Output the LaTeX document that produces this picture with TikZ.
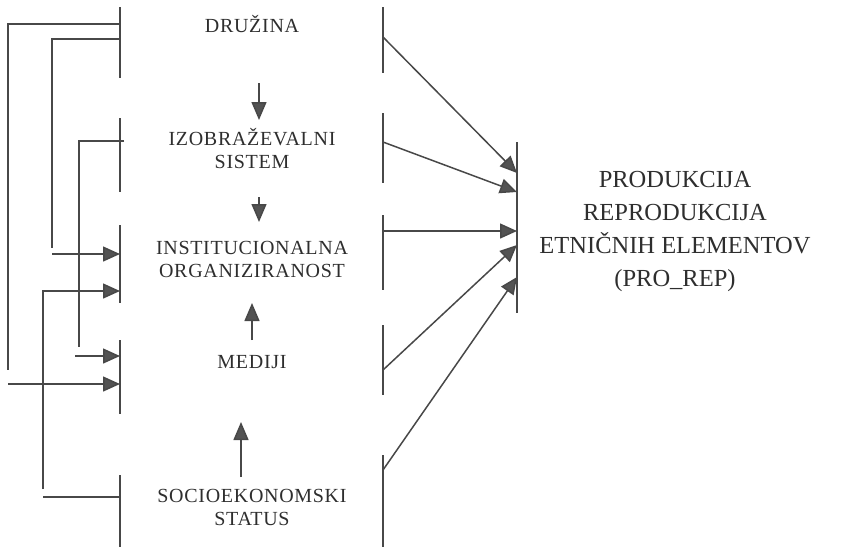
\documentclass[tikz,border=0pt]{standalone}
\usepackage{fontspec}
\setmainfont{Liberation Serif}
\newfontfamily\labelfont[LetterSpace=3.5]{Liberation Serif}
\usetikzlibrary{arrows.meta}
\definecolor{ink}{HTML}{484848}
\definecolor{tipgray}{HTML}{535353}
\definecolor{txt}{HTML}{2E2E2E}
\begin{document}
\begin{tikzpicture}[x=1pt,y=-1pt,
  line/.style={draw=ink, line width=1.5pt},
  flow/.style={line, -{Triangle[length=17pt,width=15pt,fill=tipgray]}},
  vflow/.style={line, -{Triangle[length=18pt,width=15pt,fill=tipgray]}},
  lbl/.style={font=\labelfont\fontsize{20}{23}\selectfont, text=txt,
              align=center, inner sep=0pt, anchor=base},
  outcome/.style={font=\fontsize{24.5}{33}\selectfont, text=txt,
              align=center, inner sep=0pt, anchor=base}]
\useasboundingbox (0,0) rectangle (844,547);

% ---- factor labels (anchored at the baseline of their last line) ----
\node[lbl] (druzina) at (252,32.5) {DRUŽINA};
\node[lbl] (izobr)   at (252,168.5){IZOBRAŽEVALNI\\SISTEM};
\node[lbl] (instit)  at (252,277)  {INSTITUCIONALNA\\ORGANIZIRANOST};
\node[lbl] (mediji)  at (252,368)  {MEDIJI};
\node[lbl] (socio)   at (252,525)  {SOCIOEKONOMSKI\\STATUS};
\node[outcome] (prorep) at (675,286)
  {PRODUKCIJA\\REPRODUKCIJA\\ETNIČNIH ELEMENTOV\\(PRO\_REP)};

% ---- left bars ----
\coordinate (L1t) at (120,7);   \coordinate (L1b) at (120,78);
\coordinate (L2t) at (120,118); \coordinate (L2b) at (120,192);
\coordinate (L3t) at (120,225); \coordinate (L3b) at (120,303);
\coordinate (L4t) at (120,340); \coordinate (L4b) at (120,414);
\coordinate (L5t) at (120,475); \coordinate (L5b) at (120,547);
\foreach \i in {1,...,5} \draw[line] (L\i t) -- (L\i b);

% ---- right bars ----
\coordinate (R1t) at (383,7);   \coordinate (R1b) at (383,73);
\coordinate (R2t) at (383,113); \coordinate (R2b) at (383,183);
\coordinate (R3t) at (383,215); \coordinate (R3b) at (383,290);
\coordinate (R4t) at (383,325); \coordinate (R4b) at (383,395);
\coordinate (R5t) at (383,455); \coordinate (R5b) at (383,547);
\foreach \i in {1,...,5} \draw[line] (R\i t) -- (R\i b);

% ---- outcome bar ----
\coordinate (Tt) at (517,142); \coordinate (Tb) at (517,313);
\draw[line] (Tt) -- (Tb);

% ---- arrows into the outcome ----
\coordinate (R1o) at (383,37);  \coordinate (T1) at (517,173);
\coordinate (R2o) at (383,142); \coordinate (T2) at (517,192);
\coordinate (R3o) at (383,231); \coordinate (T3) at (517,231);
\coordinate (R4o) at (383,370); \coordinate (T4) at (517,245);
\coordinate (R5o) at (383,470); \coordinate (T5) at (517,277);
\foreach \i in {1,...,5} \draw[flow] (R\i o) -- (T\i);

% ---- arrows between the factors ----
\coordinate (v1a) at (259,83);  \coordinate (v1b) at (259,120);
\coordinate (v2a) at (259,197); \coordinate (v2b) at (259,222);
\coordinate (v3a) at (252,340); \coordinate (v3b) at (252,303);
\coordinate (v4a) at (241,477); \coordinate (v4b) at (241,422);
\foreach \i in {1,...,4} \draw[vflow] (v\i a) -- (v\i b);

% ---- feedback lines on the left ----
% from DRUŽINA to MEDIJI
\coordinate (L1A) at (120,24);  \coordinate (A1) at (8,370);
\coordinate (A2) at (8,384);    \coordinate (L4A) at (120,384);
\draw[line] (L1A) -| (A1);
\draw[flow] (A2) -- (L4A);
% from DRUŽINA to institutional organisation
\coordinate (L1B) at (120,39);  \coordinate (B1) at (52,248);
\coordinate (B2) at (52,254);   \coordinate (L3B) at (120,254);
\draw[line] (L1B) -| (B1);
\draw[flow] (B2) -- (L3B);
% from the education system to MEDIJI
\coordinate (L2C) at (124,141); \coordinate (C1) at (79,347);
\coordinate (C2) at (75,356);   \coordinate (L4C) at (120,356);
\draw[line] (L2C) -| (C1);
\draw[flow] (C2) -- (L4C);
% from the socio-economic status to institutional organisation
\coordinate (L5D) at (120,497); \coordinate (D0) at (43,497);
\coordinate (D1) at (43,489);   \coordinate (L3D) at (120,291);
\draw[line] (L5D) -- (D0);
\draw[flow] (D1) |- (L3D);
\end{tikzpicture}
\end{document}
